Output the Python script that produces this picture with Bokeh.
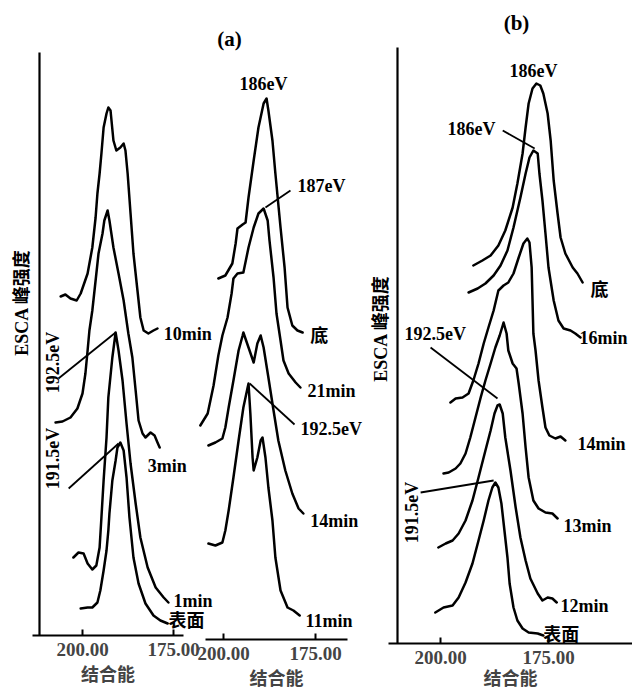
import math
from bokeh.plotting import figure
from bokeh.models import Range1d, LinearAxis, FixedTicker, NumeralTickFormatter
from bokeh.core.properties import value
from bokeh.embed import file_html
from bokeh.resources import INLINE

# ---------------- data: binding energy (eV) and ESCA peak intensity (a.u.) ----------------
TICKS_EV = [200.0, 175.0]
X_LABEL = "结合能"
Y_LABEL = "ESCA 峰强度"

# panel (a), left
A1_10MIN_EV = [206.0, 204.7, 203.3, 201.6, 200.5, 198.6, 197.3, 196.4, 195.9, 195.3, 194.8, 194.2, 193.4, 192.9, 192.3,
               191.5, 190.7, 189.6, 188.7, 188.2, 187.6, 186.8, 186.0, 184.9, 184.1, 183.2, 181.9, 180.5, 179.4]
A1_10MIN_I = [339, 341, 337, 335, 342, 362, 388, 418, 442, 462, 482, 508, 522, 528, 525,
              495, 485, 488, 492, 485, 462, 422, 382, 345, 318, 305, 302, 305, 307]
A1_3MIN_EV = [207.4, 205.5, 203.3, 201.4, 200.0, 199.2, 198.6, 198.1, 197.3, 196.4, 195.6, 194.5, 194.0, 193.1,
              192.6, 191.5, 190.1, 188.7, 187.4, 186.3, 185.4, 184.6, 183.5, 182.7, 181.3, 180.2, 179.4, 178.8]
A1_3MIN_I = [213, 214, 218, 227, 242, 262, 285, 305, 325, 355, 382, 402, 415, 425,
             415, 388, 362, 335, 302, 278, 245, 215, 202, 198, 203, 200, 193, 188]
A1_1MIN_EV = [202.5, 201.1, 199.7, 198.6, 197.3, 196.2, 195.3, 194.8, 194.2, 193.4, 192.9, 191.8, 190.9,
              190.1, 189.0, 187.9, 186.8, 185.4, 184.1, 182.1, 179.9, 177.7, 176.4]
A1_1MIN_I = [78, 83, 82, 72, 66, 70, 88, 118, 155, 198, 238, 278, 303,
             285, 255, 212, 172, 132, 98, 68, 48, 38, 33]
A1_SURF_EV = [200.5, 198.6, 197.3, 195.9, 195.1, 194.2, 193.4, 192.9, 192.6, 191.8, 190.9, 190.4, 189.6,
              188.7, 187.9, 187.1, 186.0, 184.6, 182.7, 180.5, 178.6, 176.6]
A1_SURF_I = [27, 28, 28, 33, 45, 65, 85, 105, 122, 155, 175, 188, 193,
             185, 158, 118, 78, 52, 32, 20, 15, 12]

# panel (a), right
A2_BASE_EV = [201.4, 199.5, 197.6, 196.7, 196.2, 194.8, 194.0, 193.2, 191.8, 190.5, 189.1, 188.3,
              187.8, 186.7, 185.9, 184.5, 183.4, 182.6, 181.3, 179.9, 178.5]
A2_BASE_I = [361, 364, 376, 396, 411, 415, 417, 442, 479, 512, 536, 541,
             529, 499, 466, 412, 372, 332, 314, 309, 307]
A2_21MIN_EV = [206.3, 204.3, 202.7, 201.4, 200.3, 198.9, 197.8, 197.3, 196.2, 194.6, 193.2, 191.8, 190.5, 189.1,
               188.0, 187.5, 186.4, 185.6, 184.5, 183.7, 182.3, 180.4, 179.1]
A2_21MIN_I = [214, 226, 254, 284, 304, 322, 346, 361, 366, 367, 392, 412, 426, 431,
              419, 399, 362, 326, 299, 279, 266, 257, 252]
A2_14MIN_EV = [204.1, 202.2, 200.3, 199.5, 198.6, 197.3, 195.9, 194.8, 194.6, 193.2, 191.8, 190.8, 189.9, 189.1,
               187.8, 186.4, 185.1, 183.2, 181.3, 179.6, 178.3]
A2_14MIN_I = [194, 197, 201, 212, 232, 259, 289, 304, 307, 292, 277, 296, 304, 292,
              262, 229, 199, 169, 146, 131, 126]
A2_11MIN_EV = [204.1, 202.2, 200.3, 199.5, 198.6, 197.3, 195.9, 194.6, 193.5, 193.2, 192.7, 192.1, 191.8, 190.8,
               189.9, 189.4, 188.6, 187.8, 186.7, 185.9, 184.5, 182.6, 181.0, 179.3]
A2_11MIN_I = [96, 94, 97, 109, 129, 162, 199, 232, 251, 256, 226, 182, 169, 182,
              199, 202, 182, 152, 119, 82, 49, 32, 29, 24]

# panel (b)
B_BASE_EV = [192.4, 190.3, 188.4, 186.6, 185.0, 183.3, 182.2, 181.0, 180.3, 179.6, 178.7, 177.8,
             176.9, 176.2, 175.2, 174.5, 173.8, 172.9, 172.2, 171.1, 169.4, 168.3, 167.1]
B_BASE_I = [378, 383, 388, 398, 413, 436, 460, 490, 516, 540, 555, 560,
            558, 550, 530, 503, 463, 430, 406, 390, 376, 370, 361]
B_16MIN_EV = [193.5, 191.4, 189.6, 187.7, 186.1, 184.5, 183.1, 181.5, 180.3, 179.4, 178.5,
              177.5, 177.1, 176.4, 175.7, 175.0, 173.8, 172.7, 171.5, 169.9, 168.8, 167.6]
B_16MIN_I = [351, 355, 360, 368, 378, 393, 416, 446, 470, 486, 493,
             490, 470, 443, 410, 376, 343, 323, 315, 313, 310, 306]
B_14MIN_EV = [197.7, 196.5, 194.9, 193.5, 192.4, 191.2, 190.0, 188.9, 187.7, 186.6, 185.4, 184.3, 183.1, 181.9,
              180.8, 179.9, 179.4, 178.9, 178.7, 178.5, 178.0, 177.3, 176.4, 175.7, 174.8, 173.4, 172.2, 171.1]
B_14MIN_I = [241, 245, 246, 250, 263, 280, 300, 316, 333, 353, 358, 361, 370, 386,
             400, 405, 401, 376, 343, 310, 293, 263, 236, 216, 208, 205, 207, 203]
B_13MIN_EV = [199.3, 198.1, 196.5, 195.4, 194.2, 193.1, 191.9, 190.7, 189.6, 188.4, 187.3, 186.3, 185.6, 185.4,
              184.7, 184.3, 183.3, 182.4, 181.9, 181.0, 180.3, 179.6, 178.5, 177.3, 175.7, 174.1, 172.9]
B_13MIN_I = [170, 171, 175, 180, 190, 206, 226, 246, 263, 280, 296, 308, 318, 321,
             310, 293, 280, 275, 260, 230, 196, 166, 143, 135, 131, 130, 125]
B_12MIN_EV = [200.5, 198.8, 197.2, 195.8, 194.2, 192.6, 191.2, 189.6, 188.4, 187.5, 186.8, 186.3,
              185.6, 185.0, 183.8, 182.6, 181.5, 180.3, 179.2, 177.5, 176.4, 175.2, 174.1, 173.1]
B_12MIN_I = [96, 100, 103, 110, 123, 143, 166, 193, 213, 230, 238, 239,
             230, 206, 173, 136, 106, 83, 65, 50, 43, 46, 45, 41]
B_SURF_EV = [201.2, 199.3, 197.2, 195.8, 194.2, 192.6, 191.2, 190.0, 188.9, 188.0, 187.3,
             186.6, 185.9, 185.2, 184.5, 184.0, 183.1, 182.2, 181.0, 179.6, 177.5, 176.2]
B_SURF_I = [31, 36, 38, 46, 61, 80, 103, 123, 143, 156, 161,
            156, 140, 113, 86, 60, 36, 23, 15, 11, 10, 8]

CURVES = [
    ("a1", A1_10MIN_EV, A1_10MIN_I), ("a1", A1_3MIN_EV, A1_3MIN_I),
    ("a1", A1_1MIN_EV, A1_1MIN_I), ("a1", A1_SURF_EV, A1_SURF_I),
    ("a2", A2_BASE_EV, A2_BASE_I), ("a2", A2_21MIN_EV, A2_21MIN_I),
    ("a2", A2_14MIN_EV, A2_14MIN_I), ("a2", A2_11MIN_EV, A2_11MIN_I),
    ("b", B_BASE_EV, B_BASE_I), ("b", B_16MIN_EV, B_16MIN_I), ("b", B_14MIN_EV, B_14MIN_I),
    ("b", B_13MIN_EV, B_13MIN_I), ("b", B_12MIN_EV, B_12MIN_I), ("b", B_SURF_EV, B_SURF_I),
]

# ---------------- layout ----------------
W, H = 632, 692
LATIN = "Liberation Serif"
CJK = "Noto Sans CJK SC"


def ev_range(px200, px_per_ev):
    start = 200.0 + px200 / px_per_ev
    return Range1d(start=start, end=start - W / px_per_ev)


def int_range(base_px):
    return Range1d(start=base_px - H, end=base_px)


p = figure(width=W, height=H, x_range=ev_range(82, 3.64), y_range=int_range(635),
           x_axis_type=None, y_axis_type=None, toolbar_location=None, output_backend="svg",
           min_border=0, outline_line_color=None, background_fill_color="white",
           border_fill_color="white")
p.extra_x_ranges = {"a2": ev_range(223, 3.68), "b": ev_range(440, 4.32)}
p.extra_y_ranges = {"a2": int_range(639), "b": int_range(643)}
RN = {"a1": "default", "a2": "a2", "b": "b"}

for panel, ev, inten in CURVES:
    p.line(ev, inten, x_range_name=RN[panel], y_range_name=RN[panel], line_color="black",
           line_width=2.5, line_join="round", line_cap="round")


def x_axis(panel, lo, hi, label_standoff):
    ax = LinearAxis(x_range_name=RN[panel], y_range_name=RN[panel], fixed_location=0,
                    bounds=(lo, hi), ticker=FixedTicker(ticks=TICKS_EV),
                    formatter=NumeralTickFormatter(format="0.00"),
                    axis_label=X_LABEL, axis_label_text_font=CJK, axis_label_text_font_style="bold",
                    axis_label_text_font_size="18px", axis_label_standoff=label_standoff,
                    major_label_text_font=LATIN, major_label_text_font_style="bold",
                    major_label_text_font_size="19px", major_label_standoff=7,
                    major_tick_in=6, major_tick_out=0, major_tick_line_width=2,
                    minor_tick_line_color=None, axis_line_width=2.2)
    p.add_layout(ax, "below")


def y_axis(panel, loc, top):
    ay = LinearAxis(x_range_name=RN[panel], y_range_name=RN[panel], fixed_location=loc,
                    bounds=(0, top), ticker=FixedTicker(ticks=[]), major_label_text_font_size="0px",
                    major_tick_line_color=None, minor_tick_line_color=None, axis_line_width=2.2)
    p.add_layout(ay, "left")


x_axis("a1", 172.3, 213.7, 1)
x_axis("a2", 166.3, 204.9, 1)
x_axis("b", 155.0, 212.0, -3)
y_axis("a1", 211.8, 583)
y_axis("b", 209.95, 596)

# leader lines (from label to peak)
LEADERS = [
    ("a1", 206.6, 257, 190.9, 303), ("a1", 203.8, 147, 190.1, 192),
    ("a2", 188.6, 432, 181.8, 449), ("a2", 192.9, 256, 180.7, 215),
    ("b", 185.6, 513, 178.2, 495), ("b", 202.3, 296, 186.8, 245), ("b", 204.6, 151, 187.7, 163),
]
for panel, x0, y0, x1, y1 in LEADERS:
    p.segment(x0=[x0], y0=[y0], x1=[x1], y1=[y1], x_range_name=RN[panel], y_range_name=RN[panel],
              line_color="black", line_width=1.8)

# text annotations: (panel, x, y, text, align, rotated, font, size)
LABELS = [
    ("a1", 177.7, 302, "10min", "left", False, LATIN, "18px"),
    ("a1", 182.1, 170, "3min", "left", False, LATIN, "18px"),
    ("a1", 175.0, 35, "1min", "left", False, LATIN, "18px"),
    ("a1", 176.4, 17, "表面", "left", False, CJK, "18px"),
    ("a1", 208.2, 273, "192.5eV", "center", True, LATIN, "18px"),
    ("a1", 208.2, 177, "191.5eV", "center", True, LATIN, "18px"),
    ("a1", 216.5, 333, Y_LABEL, "center", True, LATIN + ", " + CJK, "18px"),
    ("a2", 198.4, 601, "(a)", "center", False, LATIN, "21px"),
    ("a2", 189.1, 556, "186eV", "center", False, LATIN, "18px"),
    ("a2", 179.9, 454, "187eV", "left", False, LATIN, "18px"),
    ("a2", 176.4, 306, "底", "left", False, CJK, "18px"),
    ("a2", 177.2, 249, "21min", "left", False, LATIN, "18px"),
    ("a2", 179.1, 211, "192.5eV", "left", False, LATIN, "18px"),
    ("a2", 176.4, 119, "14min", "left", False, LATIN, "18px"),
    ("a2", 177.7, 19, "11min", "left", False, LATIN, "18px"),
    ("b", 182.4, 621, "(b)", "center", False, LATIN, "21px"),
    ("b", 178.5, 573, "186eV", "center", False, LATIN, "18px"),
    ("b", 192.8, 515, "186eV", "center", False, LATIN, "18px"),
    ("b", 165.3, 356, "底", "left", False, CJK, "18px"),
    ("b", 167.8, 306, "16min", "left", False, LATIN, "18px"),
    ("b", 168.3, 200, "14min", "left", False, LATIN, "18px"),
    ("b", 201.2, 310, "192.5eV", "center", False, LATIN, "18px"),
    ("b", 171.5, 118, "13min", "left", False, LATIN, "18px"),
    ("b", 206.7, 131, "191.5eV", "center", True, LATIN, "18px"),
    ("b", 172.2, 38, "12min", "left", False, LATIN, "18px"),
    ("b", 176.2, 11, "表面", "left", False, CJK, "18px"),
    ("b", 213.7, 315, Y_LABEL, "center", True, LATIN + ", " + CJK, "18px"),
]
for panel, x, y, s, align, rot, font, size in LABELS:
    p.text(x=[x], y=[y], text=[s], x_range_name=RN[panel], y_range_name=RN[panel],
           text_font=value(font), text_font_size=size, text_font_style="bold",
           text_align=align, text_baseline="middle", angle=math.pi / 2 if rot else 0.0,
           text_color="black")

open("out.html", "w").write(file_html(p, INLINE))
